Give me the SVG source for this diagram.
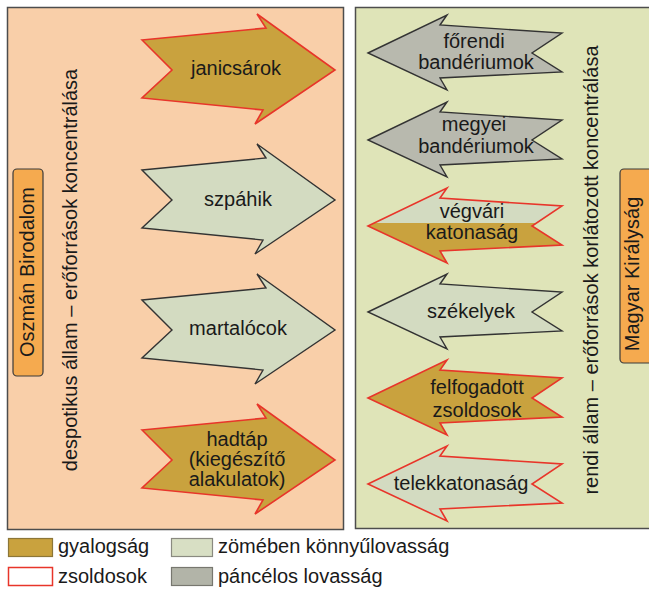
<svg xmlns="http://www.w3.org/2000/svg" width="649" height="591" viewBox="0 0 649 591">
<style>
text{font-family:"Liberation Sans",Arial,sans-serif;font-size:20px;fill:#1a1a1a}
.lbl{text-anchor:middle}
.gold{fill:#c9a23e}
.light{fill:#d3dbc1}
.grey{fill:#b8b9ae}
.red{stroke:#e8352a;stroke-width:1.6;stroke-linejoin:miter}
.dark{stroke:#333;stroke-width:1.4;stroke-linejoin:miter}
.panel{stroke:#4d4d4d;stroke-width:1.5}
.box{fill:#f5aa4f;stroke:#3a3a3a;stroke-width:1.2}
</style>
<defs>
<path id="ar" d="M142,-30 L266,-42 L257,-56 L335,0 L255,54 L263,40 L142,28 L172,0 Z"/>
<path id="al" d="M368,0 L447,-38 L440,-28 L562,-20 L532,0 L562,19 L440,25 L447,37 Z"/>
<clipPath id="lowhalf"><rect x="360" y="-3" width="210" height="50"/></clipPath>
</defs>
<rect width="649" height="591" fill="#ffffff"/>
<g id="panel-left">
<rect class="panel" x="7.5" y="7.5" width="336" height="522" fill="#f9cfa9"/>
<rect class="box" x="13" y="169" width="30" height="207" rx="4"/>
<text class="lbl" transform="translate(34,272) rotate(-90)">Oszmán Birodalom</text>
<text class="lbl" transform="translate(77,270) rotate(-90)">despotikus állam – erőforrások koncentrálása</text>
</g>
<g id="panel-right">
<rect class="panel" x="355.5" y="7.5" width="305" height="521" fill="#dfe4b8"/>
<rect class="box" x="620" y="169" width="40" height="194" rx="4"/>
<text class="lbl" transform="translate(639,274) rotate(-90)">Magyar Királyság</text>
<text class="lbl" transform="translate(598,270) rotate(-90)">rendi állam – erőforrások korlátozott koncentrálása</text>
</g>
<g id="connectors"></g>
<g id="janicsarok" transform="translate(0,70)">
<use href="#ar" class="gold red"/>
<text class="lbl" x="236" y="5">janicsárok</text>
</g>
<g id="szpahik" transform="translate(0,200)">
<use href="#ar" class="light dark"/>
<text class="lbl" x="238" y="6">szpáhik</text>
</g>
<g id="martalocok" transform="translate(0,330)">
<use href="#ar" class="light dark"/>
<text class="lbl" x="238" y="5">martalócok</text>
</g>
<g id="hadtap" transform="translate(0,460)">
<use href="#ar" class="gold red"/>
<text class="lbl" x="237" y="-14">hadtáp</text>
<text class="lbl" x="237" y="6">(kiegészítő</text>
<text class="lbl" x="237" y="26">alakulatok)</text>
</g>
<g id="forendi" transform="translate(0,53)">
<use href="#al" class="grey dark"/>
<text class="lbl" x="474" y="-5">főrendi</text>
<text class="lbl" x="476" y="16">bandériumok</text>
</g>
<g id="megyei" transform="translate(0,140)">
<use href="#al" class="grey dark"/>
<text class="lbl" x="474" y="-9">megyei</text>
<text class="lbl" x="476" y="13">bandériumok</text>
</g>
<g id="vegvari" transform="translate(0,226)">
<use href="#al" class="light" stroke="none"/>
<use href="#al" class="gold" clip-path="url(#lowhalf)"/>
<use href="#al" fill="none" class="red"/>
<text class="lbl" x="472" y="-8">végvári</text>
<text class="lbl" x="472" y="13">katonaság</text>
</g>
<g id="szekelyek" transform="translate(0,312)">
<use href="#al" class="light dark"/>
<text class="lbl" x="471" y="6">székelyek</text>
</g>
<g id="felfogadott" transform="translate(0,398)">
<use href="#al" class="gold red"/>
<text class="lbl" x="477" y="-4">felfogadott</text>
<text class="lbl" x="477" y="19">zsoldosok</text>
</g>
<g id="telekkatonasag" transform="translate(0,484)">
<use href="#al" class="light red"/>
<text class="lbl" x="461" y="6">telekkatonaság</text>
</g>
<g id="legend">
<rect x="8.5" y="538.5" width="44" height="18" fill="#c9a23e" stroke="#8c7638" stroke-width="1.2"/>
<text x="58" y="553">gyalogság</text>
<rect x="8.5" y="567.5" width="44" height="18" fill="#ffffff" stroke="#e8352a" stroke-width="1.5"/>
<text x="58" y="583">zsoldosok</text>
<rect x="171.5" y="538.5" width="41" height="18" fill="#d8dfc4" stroke="#8a8a80" stroke-width="1.2"/>
<text x="218" y="553">zömében könnyűlovasság</text>
<rect x="171.5" y="567.5" width="41" height="18" fill="#b2b4a8" stroke="#77776f" stroke-width="1.2"/>
<text x="218" y="583">páncélos lovasság</text>
</g>
</svg>
